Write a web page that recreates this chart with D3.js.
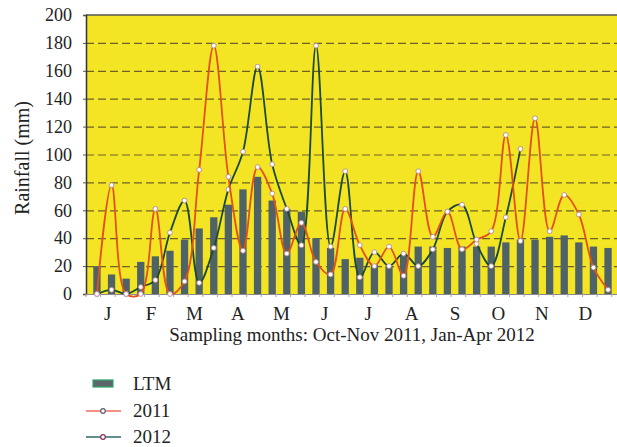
<!DOCTYPE html>
<html>
<head>
<meta charset="utf-8">
<script src="https://cdn.jsdelivr.net/npm/d3@7"></script>
<style>
  body { margin: 0; background: #fff; }
  svg { display: block; }
  svg text { font-family: "Liberation Serif", "DejaVu Serif", serif !important; }
</style>
</head>
<body>
<div id="chart"></div>
<script>
// months on the axis, three readings per month
const months = ['J', 'F', 'M', 'A', 'M', 'J', 'J', 'A', 'S', 'O', 'N', 'D'];
const yTicks = [0, 20, 40, 60, 80, 100, 120, 140, 160, 180, 200];

// long term mean (bars)
const ltm = [20, 14, 11, 23, 27, 31, 39, 47, 55, 64, 75, 84,
             67, 61, 59, 40, 33, 25, 26, 21, 20, 28, 34, 34,
             33, 34, 34, 34, 37, 39, 39, 41, 42, 37, 34, 33];

const rain2011 = [0, 78, 0, 0, 61, 0, 9, 89, 178, 84, 31, 91,
                  72, 29, 51, 23, 14, 61, 35, 20, 34, 13, 88, 41,
                  59, 32, 39, 45, 114, 38, 126, 45, 71, 57, 19, 3];

const rain2012 = [0, 3, 0, 5, 10, 44, 67, 8, 33, 75, 102, 163,
                  93, 61, 35, 178, 34, 88, 12, 30, 20, 29, 20, 32,
                  59, 64, 36, 20, 55, 104, null, null, null, null, null, null];

const width = 617;
const height = 447;
const plotLeft = 86, plotRight = 619, plotTop = 15, plotBottom = 294;

const svg = d3.select('#chart').append('svg')
  .attr('width', width)
  .attr('height', height);

const idx = d3.range(ltm.length);

const x = d3.scaleBand()
  .domain(idx)
  .range([plotLeft, plotRight])
  .padding(0.5);

const xMonth = d3.scaleBand()
  .domain(d3.range(months.length))
  .range([plotLeft, 607]);

const y = d3.scaleLinear()
  .domain([0, 200])
  .range([plotBottom, plotTop]);

// plot background
svg.append('rect')
  .attr('x', plotLeft)
  .attr('y', plotTop)
  .attr('width', width - plotLeft)
  .attr('height', plotBottom - plotTop)
  .attr('fill', '#f3e524');

// dashed grid
svg.append('g')
  .selectAll('line')
  .data(yTicks.filter(d => d > 0 && d < 200))
  .enter().append('line')
  .attr('x1', plotLeft)
  .attr('x2', width)
  .attr('y1', d => y(d) + 0.5)
  .attr('y2', d => y(d) + 0.5)
  .attr('stroke', '#6e6228')
  .attr('stroke-width', 1.2)
  .attr('stroke-dasharray', '8,4');

// bars
svg.append('g')
  .selectAll('rect')
  .data(ltm)
  .enter().append('rect')
  .attr('x', (d, i) => x(i))
  .attr('y', d => y(d))
  .attr('width', x.bandwidth())
  .attr('height', d => y(0) - y(d))
  .attr('fill', '#4f6367');

// top frame and axes
svg.append('line')
  .attr('x1', plotLeft).attr('x2', width)
  .attr('y1', plotTop).attr('y2', plotTop)
  .attr('stroke', '#555').attr('stroke-width', 1.5);

const yAxis = svg.append('g')
  .attr('transform', `translate(${plotLeft},0)`)
  .call(d3.axisLeft(y).tickValues(yTicks).tickSize(3).tickPadding(11));
yAxis.select('.domain').attr('stroke', '#333').attr('stroke-width', 1.5);
yAxis.selectAll('.tick line').attr('stroke', '#555');
yAxis.selectAll('text')
  .attr('font-size', 18)
  .attr('fill', '#222');

svg.append('line')
  .attr('x1', plotLeft).attr('x2', width)
  .attr('y1', plotBottom + 0.5).attr('y2', plotBottom + 0.5)
  .attr('stroke', '#8a8a8a').attr('stroke-width', 1.2);

svg.append('g')
  .selectAll('line')
  .data(d3.range(ltm.length + 1))
  .enter().append('line')
  .attr('x1', d => plotLeft + d * x.step())
  .attr('x2', d => plotLeft + d * x.step())
  .attr('y1', plotBottom)
  .attr('y2', plotBottom + 3)
  .attr('stroke', '#b0a0a8');

// month labels
svg.append('g')
  .selectAll('text')
  .data(months)
  .enter().append('text')
  .attr('x', (d, i) => xMonth(i) + xMonth.bandwidth() / 2)
  .attr('y', 320)
  .attr('text-anchor', 'middle')
  .attr('font-size', 19)
  .attr('fill', '#222')
  .text(d => d);

svg.append('text')
  .attr('x', 352)
  .attr('y', 341)
  .attr('text-anchor', 'middle')
  .attr('font-size', 19)
  .attr('fill', '#222')
  .text('Sampling months: Oct-Nov 2011, Jan-Apr 2012');

svg.append('text')
  .attr('transform', 'translate(29,158) rotate(-90)')
  .attr('text-anchor', 'middle')
  .attr('font-size', 20)
  .attr('fill', '#222')
  .text('Rainfall (mm)');

// smoothed lines
const line = d3.line()
  .defined(d => d != null)
  .x((d, i) => x(i) + x.bandwidth() / 2)
  .y(d => y(d))
  .curve(d3.curveCatmullRom.alpha(0.5));

function drawSeries(values, color) {
  svg.append('path')
    .datum(values)
    .attr('d', line)
    .attr('fill', 'none')
    .attr('stroke', color)
    .attr('stroke-width', 1.8);

  svg.append('g')
    .selectAll('circle')
    .data(values.map((v, i) => ({ v, i })).filter(d => d.v != null))
    .enter().append('circle')
    .attr('cx', d => x(d.i) + x.bandwidth() / 2)
    .attr('cy', d => y(d.v))
    .attr('r', 2.4)
    .attr('fill', '#fff')
    .attr('stroke', '#b58a96')
    .attr('stroke-width', 0.9);
}

drawSeries(rain2012, '#1c4a2e');
drawSeries(rain2011, '#e4501c');

// legend
const legend = svg.append('g');

legend.append('rect')
  .attr('x', 93).attr('y', 380)
  .attr('width', 20).attr('height', 7)
  .attr('fill', '#5c6569')
  .attr('stroke', '#2ea56a')
  .attr('stroke-width', 1.2);
legend.append('text')
  .attr('x', 133).attr('y', 390)
  .attr('font-size', 19).attr('fill', '#222')
  .text('LTM');

const legendLines = [
  { name: '2011', color: '#f26b5b', mark: '#5c6070', y: 411, ty: 417 },
  { name: '2012', color: '#2e6a6a', mark: '#8c2f5c', y: 437, ty: 443 },
];

legendLines.forEach(d => {
  legend.append('line')
    .attr('x1', 86).attr('x2', 121)
    .attr('y1', d.y).attr('y2', d.y)
    .attr('stroke', d.color)
    .attr('stroke-width', 1.6);
  legend.append('circle')
    .attr('cx', 103).attr('cy', d.y)
    .attr('r', 2.3)
    .attr('fill', '#fff')
    .attr('stroke', d.mark)
    .attr('stroke-width', 1.2);
  legend.append('text')
    .attr('x', 133).attr('y', d.ty)
    .attr('font-size', 19).attr('fill', '#222')
    .text(d.name);
});
</script>
</body>
</html>
